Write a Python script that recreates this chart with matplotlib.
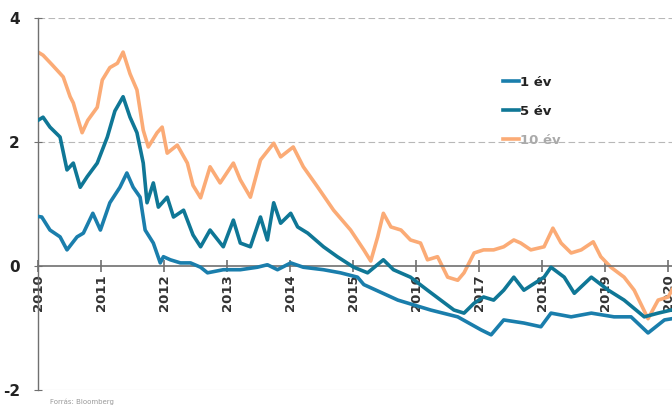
import matplotlib.pyplot as plt

# decimal year, value (%)
years_10 = [2010.00, 2010.08, 2010.22, 2010.40, 2010.51, 2010.56, 2010.64, 2010.70, 2010.79, 2010.94,
            2011.02, 2011.14, 2011.26, 2011.35, 2011.46, 2011.57, 2011.67, 2011.75, 2011.89, 2011.97,
            2012.05, 2012.21, 2012.37, 2012.46, 2012.58, 2012.73, 2012.89, 2013.10, 2013.21, 2013.37,
            2013.53, 2013.74, 2013.85, 2014.05, 2014.21, 2014.44, 2014.69, 2014.96, 2015.17, 2015.28,
            2015.39, 2015.48, 2015.60, 2015.76, 2015.91, 2016.07, 2016.18, 2016.34, 2016.50, 2016.66,
            2016.76, 2016.92, 2017.07, 2017.23, 2017.39, 2017.55, 2017.66, 2017.82, 2018.03, 2018.17,
            2018.30, 2018.46, 2018.62, 2018.81, 2018.93, 2019.09, 2019.30, 2019.46, 2019.68, 2019.84,
            2020.00, 2020.08]
vals_10 = [3.45, 3.40, 3.25, 3.05, 2.73, 2.63, 2.35, 2.15, 2.35, 2.56,
           3.00, 3.20, 3.27, 3.45, 3.10, 2.84, 2.19, 1.92, 2.15, 2.24,
           1.82, 1.95, 1.66, 1.30, 1.10, 1.60, 1.34, 1.66, 1.39, 1.11,
           1.71, 1.98, 1.76, 1.92, 1.60, 1.27, 0.90, 0.58, 0.26, 0.08,
           0.47, 0.85, 0.63, 0.58, 0.42, 0.37, 0.10, 0.15, -0.18, -0.23,
           -0.11, 0.21, 0.26, 0.26, 0.31, 0.42, 0.37, 0.26, 0.31, 0.61,
           0.37, 0.21, 0.26, 0.39, 0.15, -0.02, -0.18, -0.39, -0.85, -0.55,
           -0.50, -0.35]

years_5 = [2010.00, 2010.08, 2010.19, 2010.35, 2010.46, 2010.56, 2010.67, 2010.78, 2010.94, 2011.10,
           2011.22, 2011.35, 2011.46, 2011.57, 2011.67, 2011.73, 2011.83, 2011.91, 2012.05, 2012.15,
           2012.31, 2012.46, 2012.58, 2012.73, 2012.94, 2013.10, 2013.21, 2013.37, 2013.53, 2013.64,
           2013.74, 2013.85, 2014.01, 2014.12, 2014.28, 2014.53, 2014.75, 2015.01, 2015.23, 2015.48,
           2015.64, 2015.91, 2016.18, 2016.39, 2016.60, 2016.76, 2016.92, 2017.07, 2017.23, 2017.39,
           2017.55, 2017.71, 2018.03, 2018.14, 2018.35, 2018.51, 2018.78, 2019.05, 2019.30, 2019.62,
           2019.84, 2020.05]
vals_5 = [2.35, 2.40, 2.24, 2.08, 1.55, 1.66, 1.27, 1.44, 1.66, 2.08,
          2.50, 2.73, 2.40, 2.15, 1.66, 1.02, 1.34, 0.95, 1.11, 0.79,
          0.90, 0.50, 0.31, 0.58, 0.31, 0.74, 0.37, 0.31, 0.79, 0.42,
          1.02, 0.69, 0.85, 0.63, 0.53, 0.31, 0.15, -0.02, -0.11, 0.10,
          -0.06, -0.18, -0.39, -0.55, -0.71, -0.76, -0.60, -0.50, -0.55, -0.39,
          -0.18, -0.39, -0.18, -0.02, -0.18, -0.44, -0.18, -0.39, -0.55, -0.82,
          -0.76, -0.71]

years_1 = [2010.00, 2010.06, 2010.19, 2010.35, 2010.46, 2010.62, 2010.72, 2010.87, 2010.99, 2011.14,
           2011.30, 2011.41, 2011.51, 2011.62, 2011.70, 2011.83, 2011.94, 2011.99, 2012.10, 2012.26,
           2012.42, 2012.58, 2012.69, 2012.94, 2013.21, 2013.48, 2013.64, 2013.80, 2014.01, 2014.21,
           2014.53, 2014.80, 2015.07, 2015.17, 2015.71, 2016.23, 2016.66, 2017.03, 2017.19, 2017.39,
           2017.71, 2017.98, 2018.14, 2018.46, 2018.78, 2019.14, 2019.41, 2019.68, 2019.94, 2020.06]
vals_1 = [0.80, 0.79, 0.58, 0.47, 0.26, 0.47, 0.53, 0.85, 0.58, 1.02,
          1.27, 1.50, 1.27, 1.11, 0.58, 0.37, 0.05, 0.15, 0.10, 0.05,
          0.05, -0.02, -0.11, -0.06, -0.06, -0.02, 0.02, -0.06, 0.05, -0.02,
          -0.06, -0.11, -0.18, -0.30, -0.55, -0.71, -0.82, -1.03, -1.11, -0.87,
          -0.92, -0.98, -0.76, -0.82, -0.76, -0.82, -0.82, -1.08, -0.87, -0.85]

year_ticks = list(range(2010, 2021))
y_ticks = [-2, 0, 2, 4]

fig = plt.figure(figsize=(6.72, 4.05), dpi=100)
ax = fig.add_axes([38 / 672, 15 / 405, 634 / 672, 372 / 405])

ax.plot(years_10, vals_10, color="#fbab76", lw=2.6, label="10 év", zorder=2)
ax.plot(years_5, vals_5, color="#0f7796", lw=2.6, label="5 év", zorder=3)
ax.plot(years_1, vals_1, color="#1a7eac", lw=2.6, label="1 év", zorder=4)

ax.set_xlim(2010, 2020.06)
ax.set_ylim(-2, 4)

# faint horizontal gridlines
for y in [2, 4]:
    ax.axhline(y, color="#b8b8b8", lw=0.8, ls=(0, (6, 3)), zorder=1)
ax.axhline(-2, color="#d0d0d0", lw=0.8, zorder=1)

for s in ["top", "right"]:
    ax.spines[s].set_visible(False)
ax.spines["bottom"].set_position(("data", 0))
ax.spines["bottom"].set_color("#707070")
ax.spines["bottom"].set_linewidth(1.2)
ax.spines["left"].set_color("#707070")
ax.spines["left"].set_linewidth(1.0)

ax.set_xticks(year_ticks)
ax.set_xticklabels([str(y) for y in year_ticks], rotation=90, fontsize=9.5,
                   fontweight="bold", color="#333333")
ax.tick_params(axis="x", direction="inout", length=8, width=1.2, color="#707070", pad=2)
ax.set_yticks(y_ticks)
ax.set_yticklabels([str(y) for y in y_ticks], fontsize=11, fontweight="bold", color="#222222")
ax.tick_params(axis="y", direction="inout", length=6, color="#707070", pad=10)

handles, labels = ax.get_legend_handles_labels()
order = [2, 1, 0]
leg = ax.legend([handles[i] for i in order], [labels[i] for i in order],
                loc="upper left", bbox_to_anchor=(0.715, 0.876), frameon=False,
                handlelength=1.2, handletextpad=0.1, labelspacing=1.2,
                prop={"weight": "bold", "size": 9.5})
for t, c in zip(leg.get_texts(), ["#222222", "#222222", "#aaaaaa"]):
    t.set_color(c)

fig.text(0.075, 0.003, "Forrás: Bloomberg", fontsize=5, color="#999999")

fig.savefig("out.png", dpi=100)
